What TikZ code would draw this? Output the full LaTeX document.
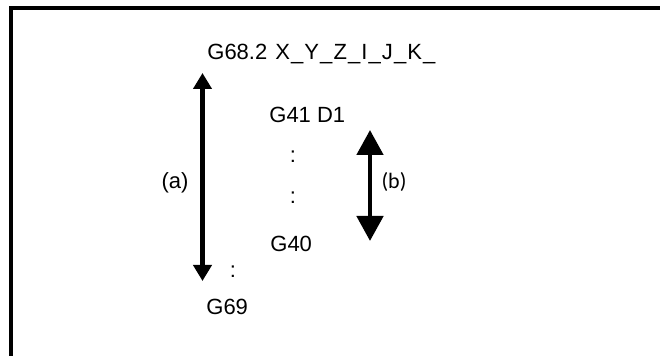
\documentclass[tikz,border=0pt]{standalone}
\usepackage{fontspec}
\setmainfont{Liberation Sans}
\newfontfamily\lblfont{Carlito}
\usetikzlibrary{arrows.meta,positioning}

\begin{document}
\begin{tikzpicture}[
    x=0.5pt, y=-0.5pt,
    code/.style={inner sep=0pt, font=\fontsize{11}{13}\selectfont},
    frameline/.style={line width=2pt},
    longarrow/.style={{Triangle[length=8pt,width=9pt]}-{Triangle[length=8pt,width=9pt]}, line width=2.4pt},
    shortarrow/.style={{Triangle[length=12.5pt,width=13pt]}-{Triangle[length=12.5pt,width=13pt]}, line width=2.4pt}
]
\useasboundingbox (0,0) rectangle (660,356);
% frame, right and bottom sides are outside the page
\draw[frameline] (10.5,370) -- (10.5,8) -- (680,8);

\node[code, anchor=base west] (g682) at (207,60) {G68.2\hspace{4pt}{\addfontfeature{LetterSpace=5}X\_Y\_Z\_I\_J\_K\_}};
\node[code, anchor=base west] (g41) at (269,123) {G41 D1};
\node[code, anchor=base] (dots1) at (293,163) {:};
\node[code, anchor=base] (dots2) at (293,204) {:};
\node[code, anchor=base west] (g40) at (270,252) {G40};
\node[code, anchor=base] (dots3) at (233,278) {:};
\node[code, anchor=base west] (g69) at (206,315) {G69};

\coordinate (atop) at (202.5,73);
\coordinate (abot) at (202.5,281);
\coordinate (btop) at (370,130);
\coordinate (bbot) at (370,241);
\draw[longarrow] (atop) -- (abot);
\draw[shortarrow] (btop) -- (bbot);

\node[code, anchor=base] (la) at (175,189) {(a)};
\node[code, anchor=base, font=\lblfont\fontsize{11}{13}\selectfont] (lb) at (394,189) {(b)};
\end{tikzpicture}
\end{document}
